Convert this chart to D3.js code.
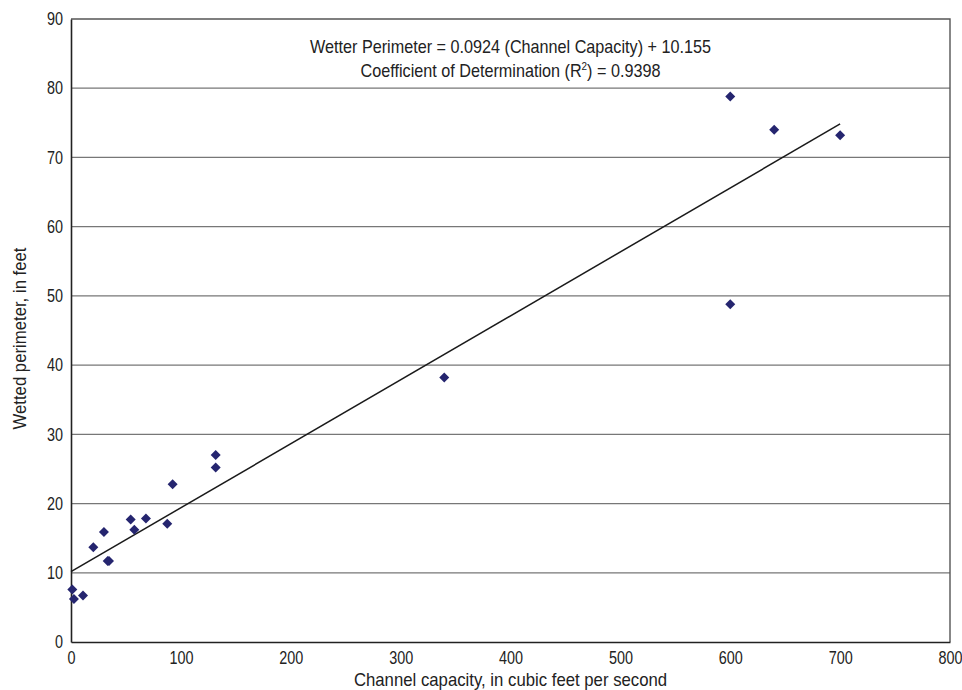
<!DOCTYPE html>
<html>
<head>
<meta charset="utf-8">
<script src="https://cdn.jsdelivr.net/npm/d3@7"></script>
<style>
  html, body { margin: 0; padding: 0; background: #fff; }
  svg { display: block; }
</style>
</head>
<body>
<svg id="chart" width="962" height="690"></svg>
<script>
// Channel capacity (cfs) and measured wetted perimeter (ft) for each site
const channelCapacity = [1.2, 2.7, 10.9, 20.3, 30, 33.4, 34.6, 54.3, 57.6, 68.2, 87.6, 92.5, 131.7, 131.7, 339.7, 600, 640, 700, 600];
const wettedPerimeter = [7.6, 6.2, 6.7, 13.7, 15.9, 11.7, 11.7, 17.7, 16.2, 17.85, 17.1, 22.8, 27.0, 25.2, 38.2, 78.8, 74.0, 73.2, 48.8];

// Linear regression fit
const slope = 0.0924;
const intercept = 10.155;
const fitRange = [0, 700];

const xTicks = [0, 100, 200, 300, 400, 500, 600, 700, 800];
const yTicks = [0, 10, 20, 30, 40, 50, 60, 70, 80, 90];

const equationLines = [
  "Wetter Perimeter = 0.0924 (Channel Capacity) + 10.155",
  "Coefficient of Determination (R", "2", ") = 0.9398"
];

const svg = d3.select("#chart");
const margin = { left: 71, right: 12, top: 19, bottom: 48 };
const W = 962, H = 690;

const x = d3.scaleLinear().domain([0, 800]).range([margin.left, W - margin.right]);
const y = d3.scaleLinear().domain([0, 90]).range([H - margin.bottom, margin.top]);

// Condensed look: Arial-like face squeezed horizontally
const font = "'Liberation Sans', Arial, sans-serif";
const ink = "#222";
function condensedText(parent, tx, ty, sx, opts = {}) {
  const g = parent.append("g").attr("transform", `translate(${tx},${ty})${opts.rotate ? ` rotate(${opts.rotate})` : ""} scale(${sx},1)`);
  return g.append("text")
    .attr("text-anchor", opts.anchor || "middle")
    .attr("font-family", font)
    .attr("font-size", opts.size || 18)
    .attr("fill", ink);
}

// Horizontal gridlines
svg.append("g")
  .selectAll("line")
  .data(yTicks.filter(d => d > 0 && d < 90))
  .join("line")
  .attr("x1", x(0)).attr("x2", x(800))
  .attr("y1", d => y(d)).attr("y2", d => y(d))
  .attr("stroke", "#777").attr("stroke-width", 1.2);

// Plot frame: top and right edges
svg.append("path")
  .attr("d", `M${x(0)},${y(90)}H${x(800)}V${y(0)}`)
  .attr("fill", "none").attr("stroke", "#555").attr("stroke-width", 1.4);

// X axis
const tickScale = 0.8;
const xAxis = svg.append("g")
  .attr("transform", `translate(0,${y(0)})`)
  .call(d3.axisBottom(x).tickValues(xTicks).tickSize(0).tickPadding(9));
xAxis.select(".domain").attr("stroke", "#222").attr("stroke-width", 1.6);
xAxis.selectAll("text")
  .attr("font-family", font).attr("font-size", 18).attr("fill", ink)
  .attr("transform", `scale(${tickScale},1)`);

// Y axis
const yAxis = svg.append("g")
  .attr("transform", `translate(${x(0)},0)`)
  .call(d3.axisLeft(y).tickValues(yTicks).tickSize(0).tickPadding(8));
yAxis.select(".domain").attr("stroke", "#222").attr("stroke-width", 1.6);
yAxis.selectAll("text")
  .attr("font-family", font).attr("font-size", 18).attr("fill", ink)
  .attr("x", -8 / tickScale)
  .attr("transform", `scale(${tickScale},1)`);

// Regression line
svg.append("line")
  .attr("x1", x(fitRange[0])).attr("y1", y(slope * fitRange[0] + intercept))
  .attr("x2", x(fitRange[1])).attr("y2", y(slope * fitRange[1] + intercept))
  .attr("stroke", "#1a1a1a").attr("stroke-width", 1.5);

// Diamond markers
const r = 5;
const diamond = `M0,${-r}L${r},0L0,${r}L${-r},0Z`;
svg.append("g")
  .selectAll("path")
  .data(channelCapacity.map((c, i) => [c, wettedPerimeter[i]]))
  .join("path")
  .attr("d", diamond)
  .attr("transform", d => `translate(${x(d[0])},${y(d[1])})`)
  .attr("fill", "#25256f");

// Equation annotation
const cx = (x(0) + x(800)) / 2;
condensedText(svg, cx, 53, 0.9).text(equationLines[0]);
const t2 = condensedText(svg, cx, 76.5, 0.9);
t2.append("tspan").text(equationLines[1]);
t2.append("tspan").attr("dy", -7).attr("font-size", 11).text(equationLines[2]);
t2.append("tspan").attr("dy", 7).text(equationLines[3]);

// Axis titles
condensedText(svg, cx, 686, 0.93).text("Channel capacity, in cubic feet per second");
condensedText(svg, 26, (y(0) + y(90)) / 2 + 8, 0.93, { rotate: -90 }).text("Wetted perimeter, in feet");
</script>
</body>
</html>
